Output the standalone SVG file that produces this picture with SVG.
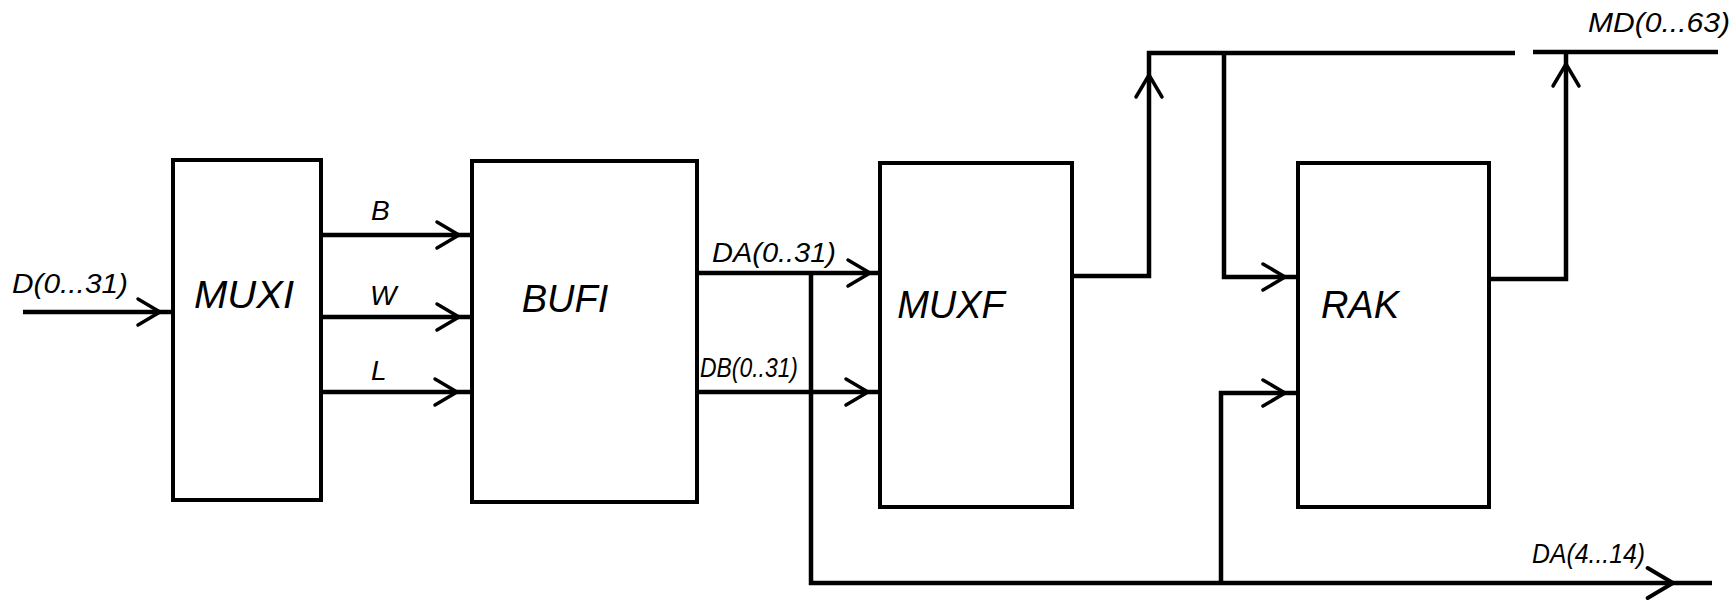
<svg xmlns="http://www.w3.org/2000/svg" xmlns:xlink="http://www.w3.org/1999/xlink" width="1734" height="600" viewBox="0 0 1734 600">
<style>
.box{fill:none;stroke:#000;stroke-width:4;stroke-linejoin:miter}
.ln{fill:none;stroke:#000;stroke-width:4.5;stroke-linejoin:miter;stroke-linecap:butt}
.ah{fill:none;stroke:#000;stroke-width:3.5;stroke-linecap:round;stroke-linejoin:miter}
.big{font-family:"Liberation Sans",Arial,sans-serif;font-style:italic;font-size:38px;fill:#000;text-anchor:middle}
.lab{font-family:"Liberation Sans",Arial,sans-serif;font-style:italic;font-size:28px;fill:#000}
</style>
<defs>
<path id="chev" class="ah" d="M-22,-13 L0,0 L-22,13"/>
</defs>
<rect width="1734" height="600" fill="#fff"/>

<g id="connectors">
  <path class="ln" d="M23,312 H173"/>
  <use xlink:href="#chev" href="#chev" transform="translate(160,312)"/>
  <path class="ln" d="M321,235 H472"/>
  <use xlink:href="#chev" href="#chev" transform="translate(459,235)"/>
  <path class="ln" d="M321,317 H472"/>
  <use xlink:href="#chev" href="#chev" transform="translate(459,317)"/>
  <path class="ln" d="M321,392 H472"/>
  <use xlink:href="#chev" href="#chev" transform="translate(457,392)"/>
  <path class="ln" d="M697,273 H880"/>
  <use xlink:href="#chev" href="#chev" transform="translate(870,273)"/>
  <path class="ln" d="M697,392 H880"/>
  <use xlink:href="#chev" href="#chev" transform="translate(868,392)"/>
  <path class="ln" d="M811,273 V583 H1712"/>
  <use xlink:href="#chev" href="#chev" transform="translate(1673,583) scale(1.15,1.15)"/>
  <path class="ln" d="M1072,276 H1149 V53 H1515"/>
  <use xlink:href="#chev" href="#chev" transform="translate(1149,75) rotate(-90)"/>
  <path class="ln" d="M1533,52 H1718"/>
  <path class="ln" d="M1224,53 V277 H1298"/>
  <use xlink:href="#chev" href="#chev" transform="translate(1285,277)"/>
  <path class="ln" d="M1221,583 V393 H1298"/>
  <use xlink:href="#chev" href="#chev" transform="translate(1285,393)"/>
  <path class="ln" d="M1489,279 H1566 V52"/>
  <use xlink:href="#chev" href="#chev" transform="translate(1566,64) rotate(-90)"/>
</g>

<g id="MUXI">
  <rect class="box" x="173" y="160" width="148" height="340"/>
  <text class="big" x="244" y="308" textLength="100" lengthAdjust="spacingAndGlyphs">MUXI</text>
</g>
<g id="BUFI">
  <rect class="box" x="472" y="161" width="225" height="341"/>
  <text class="big" x="565" y="312">BUFI</text>
</g>
<g id="MUXF">
  <rect class="box" x="880" y="163" width="192" height="344"/>
  <text class="big" x="951" y="318">MUXF</text>
</g>
<g id="RAK">
  <rect class="box" x="1298" y="163" width="191" height="344"/>
  <text class="big" x="1360" y="318">RAK</text>
</g>

<g id="labels">
  <text class="lab" x="12" y="293" textLength="116" lengthAdjust="spacingAndGlyphs">D(0...31)</text>
  <text class="lab" x="371" y="220" font-size="26">B</text>
  <text class="lab" x="370" y="305" font-size="26">W</text>
  <text class="lab" x="371" y="380" font-size="26">L</text>
  <text class="lab" x="712" y="262" textLength="124" lengthAdjust="spacingAndGlyphs">DA(0..31)</text>
  <text class="lab" x="700" y="377" font-size="24" textLength="98" lengthAdjust="spacingAndGlyphs">DB(0..31)</text>
  <text class="lab" x="1588" y="32" textLength="142" lengthAdjust="spacingAndGlyphs">MD(0...63)</text>
  <text class="lab" x="1532" y="563" font-size="25" textLength="113" lengthAdjust="spacingAndGlyphs">DA(4...14)</text>
</g>
</svg>
